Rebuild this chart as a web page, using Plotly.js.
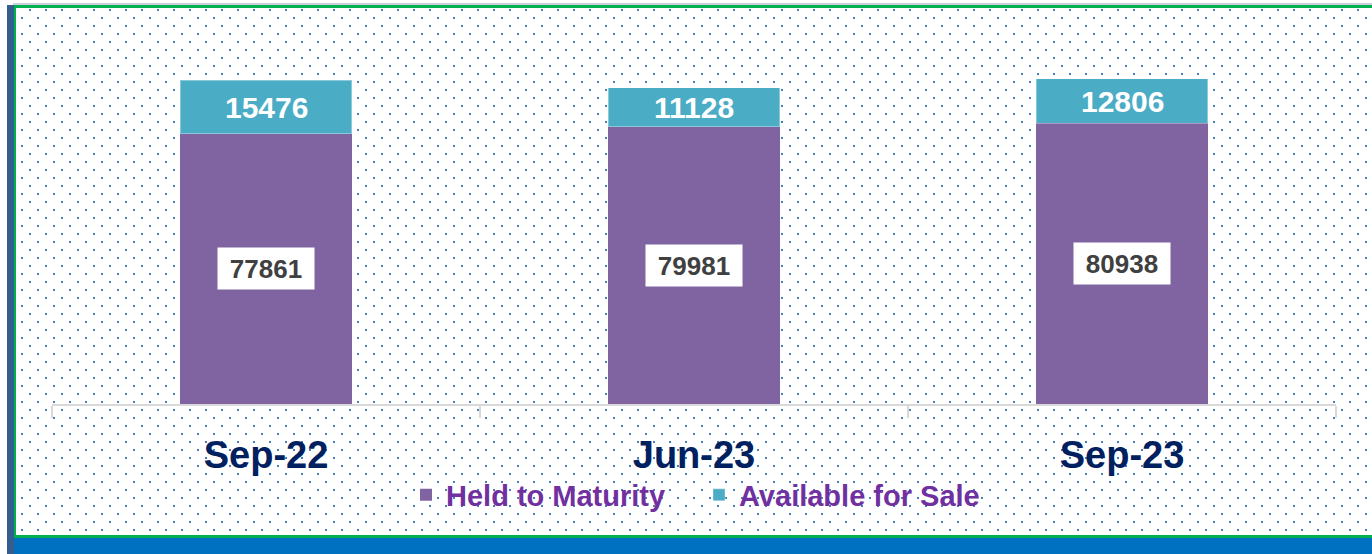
<!DOCTYPE html>
<html>
<head>
<meta charset="utf-8">
<script src="https://cdn.plot.ly/plotly-3.0.1.min.js"></script>
<style>
  html, body { margin: 0; padding: 0; background: #ffffff; }
  #wrap { position: relative; width: 1372px; height: 554px; overflow: hidden; background: #ffffff; }
  #topline { position: absolute; left: 13px; top: 3px; width: 1359px; height: 2px; background: #CBD0DA; }
  #leftband { position: absolute; left: 7px; top: 5px; width: 7px; height: 549px; background: #355E8E; }
  #frame {
    position: absolute; left: 13px; top: 5px;
    border-top: 3px solid #00B050; border-left: 3px solid #00B050; border-bottom: 3px solid #00B050;
    box-sizing: border-box;
    width: 1362px; height: 533px;
    background-color: #ffffff;
    background-image: url("data:image/svg+xml;utf8,<svg xmlns='http://www.w3.org/2000/svg' width='16' height='16'><rect x='13' y='1' width='2' height='2' fill='%234A7EBB'/><rect x='5' y='9' width='2' height='2' fill='%234A7EBB'/></svg>");
    background-repeat: repeat;
  }
  #bottomband { position: absolute; left: 13px; top: 538px; width: 1359px; height: 16px; background: #0070C0; }
  #chart { position: absolute; left: 0; top: 0; width: 1372px; height: 554px; }
</style>
</head>
<body>
<div id="wrap">
  <div id="topline"></div>
  <div id="frame"></div>
  <div id="bottomband"></div>
  <div id="leftband"></div>
  <div id="chart"></div>
</div>
<script>
// ---- data ----
var categories = ["Sep-22", "Jun-23", "Sep-23"];
var heldToMaturity = [77861, 79981, 80938];
var availableForSale = [15476, 11128, 12806];
var seriesNames = ["Held to Maturity", "Available for Sale"];

var FONT = "Liberation Sans, Arial, sans-serif";

var traces = [
  {
    type: "bar", name: seriesNames[0], x: categories, y: heldToMaturity,
    marker: { color: "#8064A2", line: { width: 0 } },
    hoverinfo: "skip"
  },
  {
    type: "bar", name: seriesNames[1], x: categories, y: availableForSale,
    marker: { color: "#4BACC6", line: { width: 1, color: "rgba(255,255,255,0.35)" } },
    hoverinfo: "skip"
  }
];

var annotations = [];
categories.forEach(function (c, i) {
  annotations.push({
    x: c, y: heldToMaturity[i] / 2, xref: "x", yref: "y",
    text: "<b>" + heldToMaturity[i] + "</b>", showarrow: false,
    font: { family: FONT, size: 26, color: "#404040" },
    bgcolor: "#ffffff", width: 88, height: 33, borderpad: 4
  });
  annotations.push({
    x: c, y: heldToMaturity[i] + availableForSale[i] / 2, xref: "x", yref: "y",
    text: "<b>" + availableForSale[i] + "</b>", showarrow: false,
    font: { family: FONT, size: 30, color: "#ffffff" }
  });
});

var layout = {
  width: 1372, height: 554,
  margin: { l: 52, r: 36, t: 20, b: 150, pad: 0 },
  paper_bgcolor: "rgba(0,0,0,0)",
  plot_bgcolor: "rgba(0,0,0,0)",
  barmode: "stack",
  bargap: 0.6,
  showlegend: true,
  legend: {
    orientation: "h", x: 0.5039, xanchor: "center", y: -0.237, yanchor: "middle",
    font: { family: FONT, size: 29, color: "#7030A0", weight: "bold" },
    bgcolor: "rgba(0,0,0,0)", traceorder: "normal", itemclick: false,
    entrywidth: 248, entrywidthmode: "pixels"
  },
  xaxis: {
    type: "category",
    showgrid: false, zeroline: false,
    showline: true, linecolor: "#D9D9D9", linewidth: 2,
    ticks: "outside", tickson: "boundaries", ticklen: 12, tickwidth: 2, tickcolor: "#D9D9D9",
    tickfont: { family: FONT, size: 38, color: "#002060", weight: "bold" },
    ticklabelstandoff: 16,
    fixedrange: true
  },
  yaxis: {
    range: [0, 110700], visible: false, showgrid: false, zeroline: false, fixedrange: true
  },
  annotations: annotations,
  font: { family: FONT }
};

Plotly.newPlot("chart", traces, layout, { displayModeBar: false, staticPlot: true });
</script>
</body>
</html>
